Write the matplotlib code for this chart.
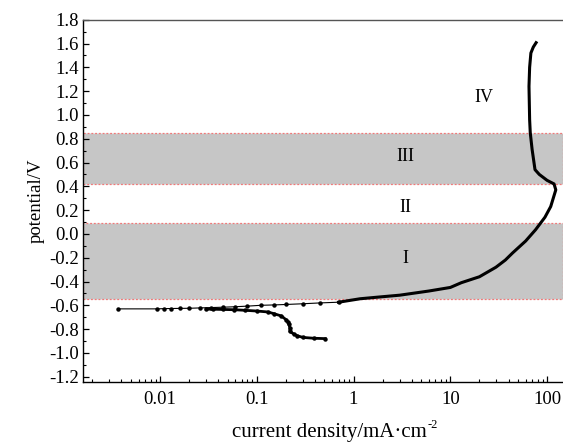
import matplotlib
matplotlib.use("Agg")
import matplotlib.pyplot as plt
from matplotlib.ticker import FixedLocator, LogLocator, NullFormatter, FixedFormatter, MultipleLocator

plt.rcParams['font.family'] = ['Liberation Serif', 'DejaVu Serif']
plt.rcParams['axes.unicode_minus'] = False

# Region boundaries (V)
band_low = [-0.55, 0.42]
band_high = [0.09, 0.85]
region_labels = ["I", "II", "III", "IV"]
region_label_x = [3.4, 3.4, 3.4, 22]
region_label_y = [-0.21, 0.22, 0.65, 1.15]

# Low-current scattered points (cathodic branch + near corrosion potential), mA/cm^2, V
cath_i = [0.51, 0.39, 0.30, 0.26, 0.24, 0.22, 0.22, 0.215, 0.21, 0.20, 0.18, 0.15, 0.13, 0.10, 0.075, 0.058, 0.045, 0.035, 0.03]
cath_e = [-0.88, -0.877, -0.87, -0.855, -0.84, -0.82, -0.79, -0.76, -0.74, -0.72, -0.69, -0.67, -0.656, -0.648, -0.642, -0.637, -0.635, -0.633, -0.632]
low_i = [0.0037, 0.0093, 0.011, 0.013, 0.016, 0.02, 0.026, 0.034, 0.045, 0.06, 0.08, 0.11, 0.15, 0.2, 0.3, 0.45, 0.7]
low_e = [-0.63, -0.63, -0.628, -0.627, -0.626, -0.625, -0.622, -0.619, -0.616, -0.612, -0.607, -0.60, -0.597, -0.593, -0.587, -0.58, -0.574]

# Main anodic curve
an_i = [0.7, 1.17, 1.86, 3.0, 6.0, 10.0, 13.0, 20.0, 29.6, 37.0, 44.0, 60.0, 76.0, 95.0, 109.0, 123.0, 118.0, 100.0, 83.0, 75.0, 70.0, 67.0, 66.0, 65.0, 66.0, 68.0, 72.0, 77.0]
an_e = [-0.574, -0.545, -0.53, -0.515, -0.48, -0.45, -0.41, -0.36, -0.28, -0.22, -0.16, -0.06, 0.035, 0.14, 0.23, 0.37, 0.42, 0.45, 0.50, 0.54, 0.71, 0.85, 0.96, 1.24, 1.40, 1.52, 1.57, 1.607]

fig = plt.figure(figsize=(5.63, 4.48), dpi=100)
ax = fig.add_axes([0.1469, 0.148, 0.8531, 0.808])

for lo, hi in zip(band_low, band_high):
    ax.axhspan(lo, hi, facecolor='#c6c6c6', edgecolor='#f07878', linestyle=(0, (1.5, 1.5)), linewidth=0.9, zorder=0)

ax.plot(low_i, low_e, color='black', lw=0.8, marker='o', ms=2.2, zorder=3)
ax.plot(cath_i, cath_e, color='black', lw=2.0, marker='o', ms=2.2, zorder=3)
ax.plot(an_i, an_e, color='black', lw=2.2, zorder=3)

for lab, x, y in zip(region_labels, region_label_x, region_label_y):
    ax.text(x, y, lab, fontsize=13, ha='center', va='center')

ax.set_xscale('log')
ax.set_xlim(0.00159, 146)
ax.set_ylim(-1.242, 1.8)

ax.xaxis.set_major_locator(FixedLocator([0.01, 0.1, 1, 10, 100]))
ax.xaxis.set_major_formatter(FixedFormatter(["0.01", "0.1", "1", "10", "100"]))
ax.xaxis.set_minor_locator(LogLocator(base=10, subs=range(2, 10), numticks=20))
ax.xaxis.set_minor_formatter(NullFormatter())

yt = [-1.2, -1.0, -0.8, -0.6, -0.4, -0.2, 0.0, 0.2, 0.4, 0.6, 0.8, 1.0, 1.2, 1.4, 1.6, 1.8]
ax.yaxis.set_major_locator(FixedLocator(yt))
ax.yaxis.set_major_formatter(FixedFormatter([f"{v:.1f}" for v in yt]))
ax.yaxis.set_minor_locator(MultipleLocator(0.1))

ax.tick_params(which='both', direction='in', labelsize=13.5, top=False, right=False)
ax.tick_params(which='major', length=4.5, width=0.9)
ax.tick_params(which='minor', length=2.5, width=0.8)
ax.tick_params(axis='x', pad=7)
ax.tick_params(axis='y', pad=3)

ax.spines['right'].set_visible(False)
ax.spines['top'].set_color('#555555')
for s in ['left', 'bottom', 'top']:
    ax.spines[s].set_linewidth(1.0)

# x label with a small superscript "-2"
fig.text(0.585, 0.0245, "current density/mA·cm", fontsize=15, ha='center', va='baseline')
fig.text(0.759, 0.044, "-2", fontsize=9, ha='left', va='baseline')
ax.set_ylabel("potential/V", fontsize=13.5, labelpad=3)

fig.savefig("out.png", dpi=100)
